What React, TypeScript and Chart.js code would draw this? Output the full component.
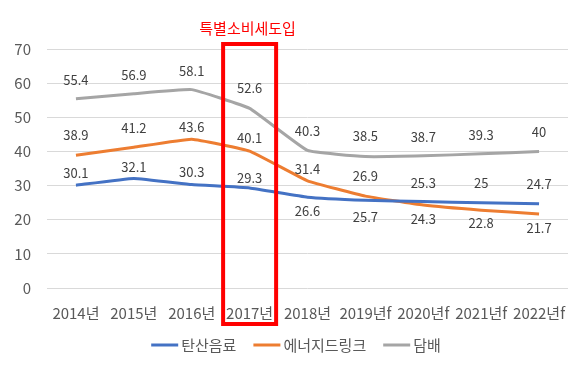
import React, { useEffect, useRef } from "react";
import { Chart, registerables } from "chart.js";

Chart.register(...registerables);

const categories = ["2014년", "2015년", "2016년", "2017년", "2018년", "2019년f", "2020년f", "2021년f", "2022년f"];
const sodaValues = [30.1, 32.1, 30.3, 29.3, 26.6, 25.7, 25.3, 25, 24.7];
const energyValues = [38.9, 41.2, 43.6, 40.1, 31.4, 26.9, 24.3, 22.8, 21.7];
const tobaccoValues = [55.4, 56.9, 58.1, 52.6, 40.3, 38.5, 38.7, 39.3, 40];
const seriesNames = ["탄산음료", "에너지드링크", "담배"];
const highlightIndex = 3;
const highlightText = "특별소비세도입";

// vertical offsets (px) of each value label relative to its point
const sodaLabelOffsets = [-12, -11, -12, -10, 14, 17, -19, -20, -20];
const energyLabelOffsets = [-20, -19, -12, -13, -12, -20, 14, 13, 14];
const tobaccoLabelOffsets = [-19, -19, -19, -20, -19, -20, -19, -19, -19];
const labelOffsets = [sodaLabelOffsets, energyLabelOffsets, tobaccoLabelOffsets];

const FONT = "'Noto Sans CJK KR', 'Noto Sans', sans-serif";
const TEXT = "#595959";

const valueLabelPlugin = {
  id: "valueLabels",
  afterDatasetsDraw(chart: any) {
    const ctx = chart.ctx;
    ctx.save();
    ctx.font = `13px ${FONT}`;
    ctx.fillStyle = "#404040";
    ctx.textAlign = "center";
    ctx.textBaseline = "middle";
    chart.data.datasets.forEach((ds: any, i: number) => {
      const meta = chart.getDatasetMeta(i);
      meta.data.forEach((pt: any, j: number) => {
        ctx.fillText(String(ds.data[j]), pt.x, pt.y + labelOffsets[i][j]);
      });
    });
    ctx.restore();
  },
};

const highlightPlugin = {
  id: "highlight",
  afterDraw(chart: any) {
    const ctx = chart.ctx;
    const x = chart.scales.x;
    const area = chart.chartArea;
    const cx = x.getPixelForValue(highlightIndex);
    const half = 26.5;
    const top = area.top - 5;
    const bottom = area.bottom + 36;
    ctx.save();
    ctx.strokeStyle = "#FF0000";
    ctx.lineWidth = 4;
    ctx.strokeRect(cx - half, top, half * 2, bottom - top);
    ctx.font = `15px ${FONT}`;
    ctx.fillStyle = "#FF0000";
    ctx.textAlign = "center";
    ctx.textBaseline = "middle";
    ctx.fillText(highlightText, cx - 2, top - 16);
    ctx.restore();
  },
};

const legendPlugin = {
  id: "lineLegend",
  afterDraw(chart: any) {
    const ctx = chart.ctx;
    ctx.save();
    ctx.font = `15px ${FONT}`;
    ctx.textBaseline = "middle";
    ctx.textAlign = "left";
    const lineW = 27;
    const gapText = 3;
    const gapItem = 17;
    const items = chart.data.datasets.map((ds: any) => ({
      label: ds.label,
      color: ds.borderColor,
      w: lineW + gapText + ctx.measureText(ds.label).width,
    }));
    const total = items.reduce((s: number, it: any) => s + it.w, 0) + gapItem * (items.length - 1);
    let x = chart.width / 2 - total / 2 + 3;
    const y = chart.chartArea.bottom + 57;
    items.forEach((it: any) => {
      ctx.strokeStyle = it.color;
      ctx.lineWidth = 3;
      ctx.beginPath();
      ctx.moveTo(x, y);
      ctx.lineTo(x + lineW, y);
      ctx.stroke();
      ctx.fillStyle = TEXT;
      ctx.fillText(it.label, x + lineW + gapText, y);
      x += it.w + gapItem;
    });
    ctx.restore();
  },
};

export default function App() {
  const ref = useRef<HTMLCanvasElement>(null);
  useEffect(() => {
    if (!ref.current) return;
    const chart = new Chart(ref.current, {
      type: "line",
      data: {
        labels: categories,
        datasets: [
          { label: seriesNames[0], data: sodaValues, borderColor: "#4472C4", backgroundColor: "#4472C4" },
          { label: seriesNames[1], data: energyValues, borderColor: "#ED7D31", backgroundColor: "#ED7D31" },
          { label: seriesNames[2], data: tobaccoValues, borderColor: "#A5A5A5", backgroundColor: "#A5A5A5" },
        ].map((d) => ({ ...d, borderWidth: 3, pointRadius: 0, tension: 0.1, fill: false })),
      },
      options: {
        responsive: false,
        animation: false,
        layout: { padding: { top: 49, right: 18, bottom: 38, left: 0 } },
        scales: {
          x: {
            offset: true,
            grid: { display: false },
            border: { display: false },
            ticks: { color: TEXT, font: { family: FONT, size: 15 }, padding: 8, maxRotation: 0 },
          },
          y: {
            min: 0,
            max: 70,
            grid: { color: "#D9D9D9", lineWidth: 1, drawTicks: false },
            border: { display: false },
            ticks: { stepSize: 10, color: TEXT, font: { family: FONT, size: 15 }, padding: 16 },
            afterFit(scale: any) {
              scale.width = 47;
            },
          },
        },
        plugins: {
          legend: { display: false },
          tooltip: { enabled: false },
        },
      },
      plugins: [valueLabelPlugin, highlightPlugin, legendPlugin],
    });
    return () => chart.destroy();
  }, []);
  return (
    <div style={{ position: "fixed", left: 0, top: 0, width: 586, height: 368, background: "#fff" }}>
      <canvas ref={ref} width={586} height={368} />
    </div>
  );
}
